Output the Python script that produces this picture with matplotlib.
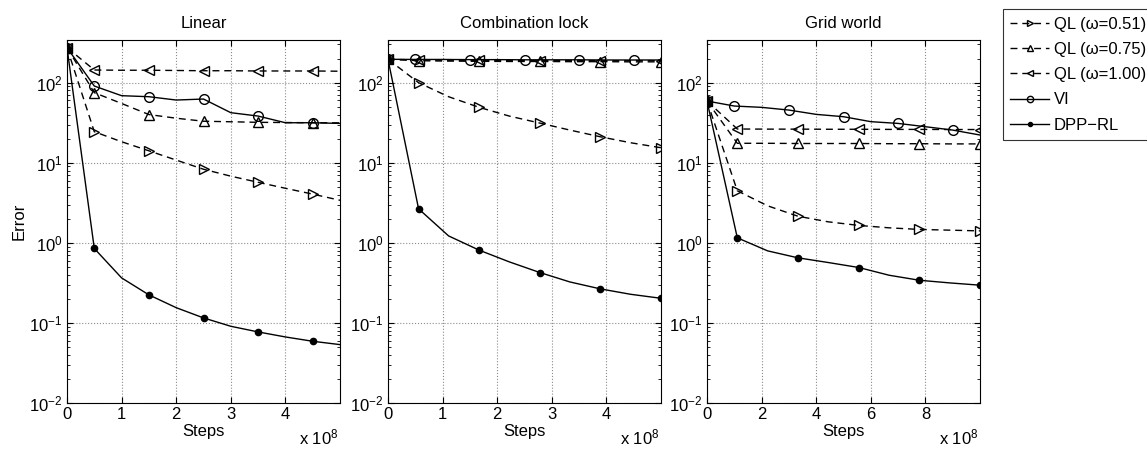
import matplotlib
matplotlib.use("Agg")
import matplotlib.pyplot as plt
from matplotlib.ticker import LogLocator, NullFormatter

plt.rcParams["font.family"] = ["Liberation Sans", "DejaVu Sans"]
plt.rcParams["mathtext.fontset"] = "custom"
plt.rcParams["mathtext.rm"] = "Liberation Sans"
plt.rcParams["mathtext.it"] = "Liberation Sans:italic"

# steps are in units of 1e8
LIN_X = [0, 0.5, 1, 1.5, 2, 2.5, 3, 3.5, 4, 4.5, 5]
LIN_QL051 = [274, 24.4, 18.3, 14.1, 10.8, 8.3, 6.8, 5.7, 4.8, 4.06, 3.4]
LIN_QL075 = [274, 75, 55, 40, 36, 33, 32.5, 32, 31.8, 31.6, 31.5]
LIN_QL100 = [274, 144, 143, 143, 142, 141, 141, 140, 140, 140, 139]
LIN_VI = [274, 90.8, 68.8, 66.8, 60.7, 62.5, 42.2, 38.3, 31.6, 31.6, 31]
LIN_DPP = [274, 0.85, 0.365, 0.224, 0.155, 0.1155, 0.0908, 0.0772, 0.0668, 0.059, 0.0536]

LOCK_X = [0, 0.56, 1.11, 1.67, 2.22, 2.78, 3.33, 3.89, 4.44, 5.0]
LOCK_VI_X = [0, 0.5, 1, 1.5, 2, 2.5, 3, 3.5, 4, 4.5, 5]
LOCK_QL051 = [196, 100, 66.8, 49.2, 38.3, 31.3, 25.6, 21.1, 17.8, 15.4]
LOCK_QL075 = [196, 188, 186, 185, 184, 184, 183, 183, 182, 182]
LOCK_QL100 = [196, 192, 191, 190, 190, 189, 189, 188, 188, 188]
LOCK_VI = [196, 195, 195, 194, 194, 193, 193, 193, 192, 192, 192]
LOCK_DPP = [196, 2.66, 1.22, 0.81, 0.579, 0.426, 0.325, 0.266, 0.228, 0.203]

GRID_X = [0, 1.11, 2.22, 3.33, 4.44, 5.56, 6.67, 7.78, 8.89, 10.0]
GRID_VI_X = [0, 1, 2, 3, 4, 5, 6, 7, 8, 9, 10]
GRID_QL051 = [59, 4.47, 2.9, 2.15, 1.83, 1.65, 1.54, 1.47, 1.44, 1.41]
GRID_QL075 = [59, 17.5, 17.5, 17.4, 17.4, 17.4, 17.3, 17.3, 17.2, 17.2]
GRID_QL100 = [59, 26.4, 26.3, 26.3, 26.2, 26.2, 26.1, 26.1, 26.0, 26.0]
GRID_VI = [59, 51.1, 49.2, 45.5, 40.2, 37.6, 32.6, 31, 28.2, 25.6, 22.2]
GRID_DPP = [59, 1.155, 0.794, 0.65, 0.568, 0.492, 0.394, 0.341, 0.316, 0.296]

TITLES = ["Linear", "Combination lock", "Grid world"]
LABELS = ["QL (\u03c9=0.51)", "QL (\u03c9=0.75)", "QL (\u03c9=1.00)", "VI", "DPP\u2212RL"]

panels = [
    (LIN_X, LIN_X, [LIN_QL051, LIN_QL075, LIN_QL100, LIN_VI, LIN_DPP], 5, [0, 1, 2, 3, 4]),
    (LOCK_X, LOCK_VI_X, [LOCK_QL051, LOCK_QL075, LOCK_QL100, LOCK_VI, LOCK_DPP], 5, [0, 1, 2, 3, 4]),
    (GRID_X, GRID_VI_X, [GRID_QL051, GRID_QL075, GRID_QL100, GRID_VI, GRID_DPP], 10, [0, 2, 4, 6, 8]),
]

styles = [
    dict(ls="--", marker=">", mfc="none", ms=7),
    dict(ls="--", marker="^", mfc="none", ms=7),
    dict(ls="--", marker="<", mfc="none", ms=7),
    dict(ls="-", marker="o", mfc="none", ms=7),
    dict(ls="-", marker="o", mfc="k", ms=4.5),
]

fig = plt.figure(figsize=(11.47, 4.5), dpi=100)
lefts = [67 / 1147, 388 / 1147, 707 / 1147]
width = 273 / 1147
bottom = 1 - 403 / 450
height = 363 / 450

handles = []
for i, (xq, xvi, series, xmax, xt) in enumerate(panels):
    ax = fig.add_axes([lefts[i], bottom, width, height])
    for j, (ys, st) in enumerate(zip(series, styles)):
        xs = xvi if j == 3 else xq
        mev = [0] + list(range(1, len(xs), 2))
        h, = ax.plot(xs, ys, color="k", lw=1.0, mec="k", mew=1.0,
                     markevery=mev, dashes=(5, 3.5) if st["ls"] == "--" else (None, None),
                     label=LABELS[j], **st)
        if i == 0:
            handles.append(h)
    ax.set_yscale("log")
    ax.set_ylim(1e-2, 10 ** 2.533)
    ax.set_xlim(0, xmax)
    ax.set_xticks(xt)
    ax.set_yticks([1e-2, 1e-1, 1e0, 1e1, 1e2])
    ax.yaxis.set_minor_locator(LogLocator(base=10, subs=range(2, 10)))
    ax.yaxis.set_minor_formatter(NullFormatter())
    ax.tick_params(direction="in", top=True, right=True, labelsize=12, length=4, pad=3)
    ax.tick_params(which="minor", direction="in", right=True, length=2)
    ax.grid(True, which="major", ls=":", color="0.55", lw=0.8)
    for s in ax.spines.values():
        s.set_linewidth(0.8)
    ax.set_title(TITLES[i], fontsize=12, pad=9)
    ax.set_xlabel("Steps", fontsize=12, labelpad=1)
    ax.text(0.995, -44 / 363, r"x 10$^{8}$", transform=ax.transAxes,
            ha="right", va="bottom", fontsize=12)
    if i == 0:
        ax.set_ylabel("Error", fontsize=12, labelpad=2)

leg = fig.legend(handles=handles, loc="upper left", bbox_to_anchor=(1003 / 1147, 1 - 9 / 450),
                 fontsize=12, frameon=True, fancybox=False, edgecolor="k",
                 handlelength=2.3, handletextpad=0.3, borderpad=0.45, labelspacing=0.62,
                 borderaxespad=0, markerscale=0.65)
leg.get_frame().set_linewidth(0.8)

fig.savefig("out.png", dpi=100)
